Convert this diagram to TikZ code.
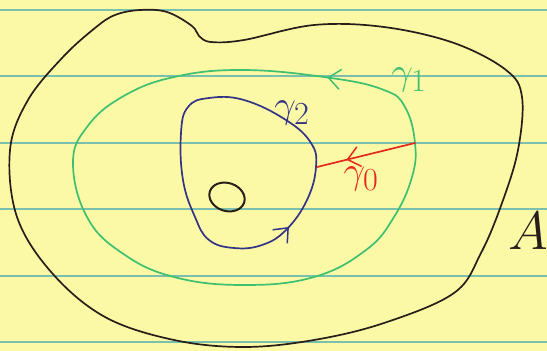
\documentclass[tikz,border=0pt]{standalone}
\usepackage{tikz}
\usetikzlibrary{positioning, arrows.meta, decorations.markings, calc}
\definecolor{paper}{RGB}{252,249,166}
\definecolor{ruling}{RGB}{122,192,172}
\definecolor{penblack}{RGB}{40,30,25}
\definecolor{pengreen}{RGB}{62,192,112}
\definecolor{penblue}{RGB}{52,52,135}
\definecolor{penred}{RGB}{228,42,28}

\begin{document}
\begin{tikzpicture}[x=1pt, y=-1pt,
                rulingline/.style={ruling, line width=2.6pt},
                curve/.style={line width=1.7pt, line cap=round, line join=round},
                midarrow/.style={postaction={decorate}, decoration={markings, mark=at position #1 with {\arrow{Straight Barb[length=12pt, width=20pt, line width=1.5pt]}}}},
                hand/.style={font=\Huge, scale=1.55, inner sep=0pt}
            ]

            % Papier
            \fill[paper] (0,0) rectangle (547,351);
            \useasboundingbox (0,0) rectangle (547,351);
            \foreach \y in {10,76,143,209,276,342}
                \draw[rulingline] (0,\y) -- (547,\y);

            % Gebiet A
            \draw[curve, penblack] plot[smooth cycle, tension=0.6] coordinates {
                (115,15) (140,10) (167,12) (192,26) (199,36) (211,42) (244,40) (314,25) (384,27)
                (454,43) (506,70) (522,97) (518,150) (502,203) (481,253) (454,293)
                (384,323) (314,340) (244,347) (174,340) (105,317) (52,273) (17,217)
                (10,150) (28,100) (63,57) (95,28)};
            \draw[penblack, line width=2pt, rotate around={-18:(227,197)}] (227,197) ellipse [x radius=18, y radius=14];

            % Kurven
            \draw[curve, pengreen, midarrow=0.095] plot[smooth cycle, tension=0.7] coordinates {
                (415,143) (405,107) (384,90) (331,78) (244,70) (174,77) (122,97) (87,127)
                (73,163) (87,217) (122,253) (174,277) (244,285) (314,277) (366,250)
                (394,217) (412,177)};
            \draw[curve, penblue, midarrow=0.80] plot[smooth cycle, tension=0.7] coordinates {
                (316,167) (311,143) (286,120) (244,100) (209,98) (188,107) (181,133)
                (183,180) (195,217) (209,240) (234,248) (262,245) (286,230) (307,200)};

            % Verbindung
            \coordinate (redstart) at (415,143);
            \coordinate (redend) at (317,167);
            \draw[curve, penred, midarrow=0.7] (redstart) -- (redend) node[hand, pos=0.55, below=9pt] {$\gamma_0$};

            % Beschriftung
            \node[hand, pengreen] (gammaone) at (409,80) {$\gamma_1$};
            \node[hand, penblue] (gammatwo) at (292,113) {$\gamma_2$};
            \node[hand, penblack, scale=1.4] (region) at (528,231) {$A$};

        \end{tikzpicture}
\end{document}
